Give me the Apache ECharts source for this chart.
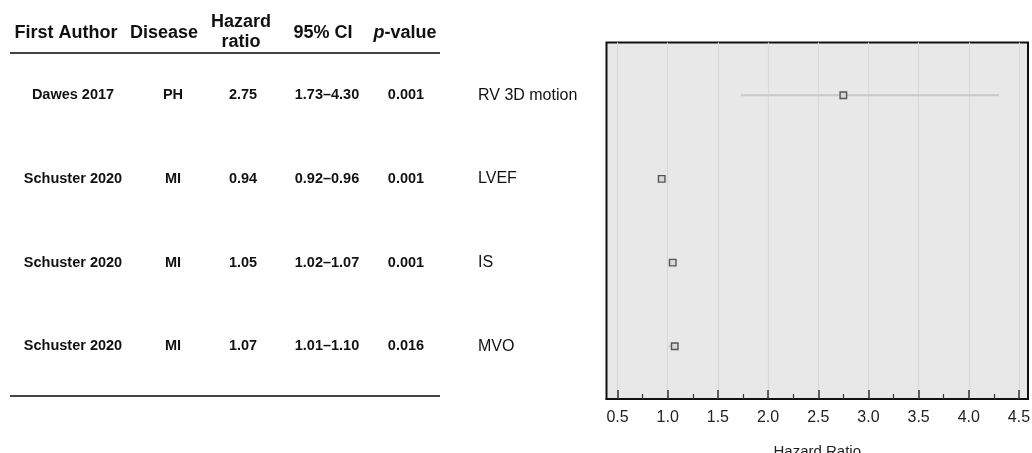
<!DOCTYPE html>
<html>
<head>
<meta charset="utf-8">
<script src="https://cdn.jsdelivr.net/npm/echarts@6/dist/echarts.min.js"></script>
<style>
html,body{margin:0;padding:0;background:#fff;}
#chart{width:1032px;height:453px;}
</style>
</head>
<body>
<div id="chart"></div>
<script>
const studies = ['RV 3D motion', 'LVEF', 'IS', 'MVO'];
const authors = ['Dawes 2017', 'Schuster 2020', 'Schuster 2020', 'Schuster 2020'];
const diseases = ['PH', 'MI', 'MI', 'MI'];
const hazardRatio = [2.75, 0.94, 1.05, 1.07];
const ciLow = [1.73, 0.92, 1.02, 1.01];
const ciHigh = [4.30, 0.96, 1.07, 1.10];
const pValues = ['0.001', '0.001', '0.001', '0.016'];
const majorTicks = [0.5, 1.0, 1.5, 2.0, 2.5, 3.0, 3.5, 4.0, 4.5];
const minorTicks = [0.75, 1.25, 1.75, 2.25, 2.75, 3.25, 3.75, 4.25];
const headers = ['First Author', 'Disease', 'Hazard\nratio', '95% CI', '{i|p}-value'];

const FONT = '"Liberation Sans", Arial, Helvetica, sans-serif';
const rowIdx = studies.map((_, i) => i);
const ciText = ciLow.map((lo, i) => lo.toFixed(2) + '\u2013' + ciHigh[i].toFixed(2));
const hrText = hazardRatio.map(v => v.toFixed(2));

const GRID_LEFT = 606.5;
const Y_MIN = -0.63, Y_MAX = 3.63;

function colAxis(texts, centerX) {
  return {
    type: 'value', min: Y_MIN, max: Y_MAX, inverse: true, position: 'left',
    axisLine: {show: false, onZero: false}, axisTick: {show: false}, splitLine: {show: false},
    axisLabel: {
      show: true, customValues: rowIdx, align: 'center',
      margin: GRID_LEFT - centerX,
      formatter: v => texts[Math.round(v)],
      fontFamily: FONT, fontWeight: 'bold', fontSize: 14.5, color: '#111'
    }
  };
}

const chart = echarts.init(document.getElementById('chart'), null, {renderer: 'canvas'});

const headerX = [66, 164, 241, 323, 405];
const graphics = headers.map((h, i) => ({
  type: 'text',
  x: headerX[i], y: i === 2 ? 32 : 33,
  style: {
    text: h, x: 0, y: 0, align: 'center', verticalAlign: 'middle',
    fontFamily: FONT, fontWeight: 'bold', fontSize: 18, fill: '#111',
    lineHeight: 20,
    rich: {i: {fontStyle: 'italic', fontWeight: 'bold', fontSize: 18, fontFamily: FONT, fill: '#111'}}
  }
}));
graphics.push({type: 'line', shape: {x1: 10, y1: 53, x2: 440, y2: 53}, style: {stroke: '#444', lineWidth: 2}});
graphics.push({type: 'line', shape: {x1: 10, y1: 396, x2: 440, y2: 396}, style: {stroke: '#444', lineWidth: 2}});

const option = {
  animation: false,
  backgroundColor: '#ffffff',
  grid: {
    left: GRID_LEFT, right: 4, top: 42.5, bottom: 54,
    outerBoundsMode: 'none', containLabel: false,
    show: true, backgroundColor: '#e8e8e8', borderColor: '#111', borderWidth: 2
  },
  graphic: graphics,
  xAxis: [
    {
      type: 'value', min: 0.39, max: 4.59, position: 'bottom',
      axisLine: {show: true, onZero: false, lineStyle: {color: '#111', width: 2}},
      axisTick: {show: true, inside: true, length: 9, customValues: majorTicks, lineStyle: {color: '#333', width: 1.5}},
      axisLabel: {
        customValues: majorTicks, formatter: v => v.toFixed(1),
        fontFamily: FONT, fontSize: 16, color: '#222', margin: 11
      },
      splitLine: {show: true, lineStyle: {color: '#dadada', width: 1.2}},
      name: 'Hazard Ratio', nameLocation: 'middle', nameGap: 45,
      nameTextStyle: {fontFamily: FONT, fontSize: 15, color: '#222'}
    },
    {
      type: 'value', min: 0.39, max: 4.59, position: 'bottom',
      axisLine: {show: false, onZero: false},
      axisTick: {show: true, inside: true, length: 5, customValues: minorTicks, lineStyle: {color: '#333', width: 1.2}},
      axisLabel: {show: false},
      splitLine: {show: false}
    }
  ],
  yAxis: [
    {
      type: 'value', min: Y_MIN, max: Y_MAX, inverse: true, position: 'left',
      axisLine: {show: false, onZero: false}, axisTick: {show: false}, splitLine: {show: false},
      axisLabel: {
        show: true, customValues: rowIdx, align: 'left', margin: GRID_LEFT - 478,
        formatter: v => studies[Math.round(v)],
        fontFamily: FONT, fontSize: 16, color: '#111'
      }
    },
    colAxis(authors, 73),
    colAxis(diseases, 173),
    colAxis(hrText, 243),
    colAxis(ciText, 327),
    colAxis(pValues, 406)
  ],
  series: [
    {
      type: 'custom',
      xAxisIndex: 0, yAxisIndex: 0,
      data: rowIdx.map(i => [ciLow[i], ciHigh[i], i]),
      encode: {x: [0, 1], y: 2},
      silent: true,
      renderItem: function (params, api) {
        const p1 = api.coord([api.value(0), api.value(2)]);
        const p2 = api.coord([api.value(1), api.value(2)]);
        return {
          type: 'line',
          shape: {x1: p1[0], y1: p1[1], x2: p2[0], y2: p2[1]},
          style: {stroke: '#c8c8c8', lineWidth: 2}
        };
      }
    },
    {
      type: 'scatter',
      xAxisIndex: 0, yAxisIndex: 0,
      data: rowIdx.map(i => [hazardRatio[i], i]),
      symbol: 'rect', symbolSize: 6.5,
      itemStyle: {color: '#d8d8d8', borderColor: '#555', borderWidth: 1.4, opacity: 1},
      silent: true
    }
  ]
};
chart.setOption(option);
</script>
</body>
</html>
